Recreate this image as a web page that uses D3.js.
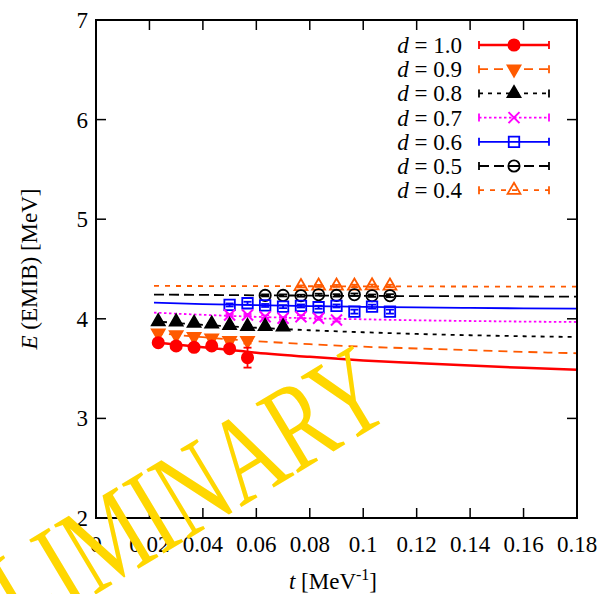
<!DOCTYPE html>
<html lang="en">
<head>
  <meta charset="UTF-8" />
  <title>E(EMIB) vs t</title>
  <script src="https://d3js.org/d3.v7.min.js"></script>
  <style>
    body { margin: 0; background: #fff; }
    text { font-family: "Liberation Serif", "DejaVu Serif", serif; }
  </style>
</head>
<body>
  <div id="chart"></div>
  <script>
    // legend labels (d values)
    var dLabels = ["1.0", "0.9", "0.8", "0.7", "0.6", "0.5", "0.4"];
    var xTicks = [0, 0.02, 0.04, 0.06, 0.08, 0.1, 0.12, 0.14, 0.16, 0.18];
    var yTicks = [2, 3, 4, 5, 6, 7];

    // data points, t in MeV^-1
    var t10 = [0.0233, 0.03, 0.0367, 0.0433, 0.05, 0.0567];
    var e10 = [3.760, 3.727, 3.714, 3.727, 3.700, 3.610];
    var err10 = [0.012, 0.012, 0.015, 0.02, 0.022, 0.1];

    var t09 = [0.0233, 0.03, 0.0367, 0.0433, 0.05, 0.0567];
    var e09 = [3.856, 3.839, 3.822, 3.806, 3.782, 3.782];
    var err09 = [0.01, 0.01, 0.015, 0.02, 0.02, 0.03];

    var t08 = [0.0233, 0.03, 0.0367, 0.0433, 0.05, 0.0567, 0.0633, 0.07];
    var e08 = [3.972, 3.970, 3.956, 3.949, 3.935, 3.925, 3.925, 3.920];
    var err08 = [0.008, 0.008, 0.01, 0.01, 0.01, 0.012, 0.012, 0.015];

    var t07 = [0.05, 0.0567, 0.0633, 0.07, 0.0767, 0.0833, 0.09];
    var e07 = [4.038, 4.038, 4.021, 4.005, 4.021, 4.005, 3.988];
    var err07 = [0.01, 0.01, 0.012, 0.012, 0.015, 0.015, 0.015];

    var t06 = [0.05, 0.0567, 0.0633, 0.07, 0.0767, 0.0833, 0.09, 0.0967, 0.1033, 0.11];
    var e06 = [4.139, 4.156, 4.134, 4.122, 4.129, 4.116, 4.129, 4.072, 4.122, 4.072];
    var err06 = [0.015, 0.015, 0.015, 0.015, 0.015, 0.015, 0.015, 0.02, 0.02, 0.02];

    var t05 = [0.0633, 0.07, 0.0767, 0.0833, 0.09, 0.0967, 0.1033, 0.11];
    var e05 = [4.235, 4.235, 4.232, 4.242, 4.235, 4.242, 4.232, 4.232];
    var err05 = [0.01, 0.01, 0.01, 0.01, 0.012, 0.012, 0.012, 0.015];

    var t04 = [0.0767, 0.0833, 0.09, 0.0967, 0.1033, 0.11];
    var e04 = [4.325, 4.330, 4.330, 4.330, 4.332, 4.330];
    var err04 = [0.01, 0.01, 0.01, 0.012, 0.012, 0.012];

    // fit curves, read at these t
    var fitT = [0.0217, 0.04, 0.06, 0.08, 0.1, 0.12, 0.14, 0.16, 0.18];
    var fit10 = [3.765, 3.715, 3.660, 3.618, 3.582, 3.555, 3.530, 3.508, 3.488];
    var fit09 = [3.860, 3.815, 3.775, 3.745, 3.720, 3.702, 3.685, 3.668, 3.654];
    var fit08 = [3.975, 3.940, 3.910, 3.885, 3.865, 3.848, 3.835, 3.825, 3.817];
    var fit07 = [4.062, 4.040, 4.020, 4.005, 3.995, 3.985, 3.978, 3.972, 3.968];
    var fit06 = [4.162, 4.148, 4.137, 4.128, 4.120, 4.114, 4.109, 4.105, 4.102];
    var fit05 = [4.243, 4.240, 4.236, 4.233, 4.230, 4.228, 4.226, 4.224, 4.222];
    var fit04 = [4.330, 4.329, 4.328, 4.327, 4.326, 4.325, 4.324, 4.323, 4.323];

    var W = 605, H = 594;
    var mLeft = 96, mRight = 577, mTop = 20, mBottom = 518;
    var orange = "#ff5a00";

    var styles = [
      { t: t10, e: e10, err: err10, fit: fit10, color: "#ff0000", dash: null, lw: 2.5, sym: "circle", filled: true },
      { t: t09, e: e09, err: err09, fit: fit09, color: orange, dash: "9,6", lw: 1.8, sym: "down", filled: true },
      { t: t08, e: e08, err: err08, fit: fit08, color: "#000000", dash: "4,5", lw: 1.8, sym: "up", filled: true },
      { t: t07, e: e07, err: err07, fit: fit07, color: "#ff00ff", dash: "2.5,2.5", lw: 1.8, sym: "x", filled: false },
      { t: t06, e: e06, err: err06, fit: fit06, color: "#0000ff", dash: null, lw: 1.8, sym: "square", filled: false },
      { t: t05, e: e05, err: err05, fit: fit05, color: "#000000", dash: "10,5", lw: 1.8, sym: "circle", filled: false },
      { t: t04, e: e04, err: err04, fit: fit04, color: orange, dash: "5,6", lw: 1.8, sym: "up", filled: false }
    ];

    var svg = d3.select("#chart").append("svg")
      .attr("width", W)
      .attr("height", H);

    var x = d3.scaleLinear().domain([0, 0.18]).range([mLeft, mRight]);
    var y = d3.scaleLinear().domain([2, 7]).range([mBottom, mTop]);

    var plot = svg.append("g");

    // fit lines
    var line = d3.line()
      .x(function(d) { return x(d[0]); })
      .y(function(d) { return y(d[1]); })
      .curve(d3.curveMonotoneX);

    styles.forEach(function(s) {
      plot.append("path")
        .datum(fitT.map(function(t, i) { return [t, s.fit[i]]; }))
        .attr("d", line)
        .attr("fill", "none")
        .attr("stroke", s.color)
        .attr("stroke-width", s.lw)
        .attr("stroke-dasharray", s.dash);
    });

    function symbolPath(sym) {
      if (sym == "circle") return d3.symbol().type(d3.symbolCircle).size(100)();
      if (sym == "square") return d3.symbol().type(d3.symbolSquare).size(110)();
      if (sym == "up" || sym == "down") return d3.symbol().type(d3.symbolTriangle).size(72)();
      // x cross
      var r = 5.5;
      return "M" + (-r) + "," + (-r) + "L" + r + "," + r + "M" + (-r) + "," + r + "L" + r + "," + (-r);
    }

    function drawMarker(g, s, px, py) {
      g.append("path")
        .attr("d", symbolPath(s.sym))
        .attr("transform", "translate(" + px + "," + py + ")" + (s.sym == "down" ? " rotate(180)" : ""))
        .attr("stroke", s.color)
        .attr("stroke-width", s.sym == "x" ? 2 : 1.8)
        .attr("fill", s.filled ? s.color : "none");
    }

    // points with error bars
    styles.slice().reverse().forEach(function(s) {
      var g = plot.append("g");
      s.t.forEach(function(t, i) {
        var px = x(t), py = y(s.e[i]);
        var y1 = y(s.e[i] + s.err[i]), y2 = y(s.e[i] - s.err[i]);
        g.append("line")
          .attr("x1", px).attr("x2", px).attr("y1", y1).attr("y2", y2)
          .attr("stroke", s.color).attr("stroke-width", 1.8);
        [y1, y2].forEach(function(yy) {
          g.append("line")
            .attr("x1", px - 4).attr("x2", px + 4).attr("y1", yy).attr("y2", yy)
            .attr("stroke", s.color).attr("stroke-width", 1.8);
        });
        drawMarker(g, s, px, py);
      });
    });

    // axes with inward ticks on all sides
    var tickLen = 10;
    var axes = svg.append("g");
    axes.append("rect")
      .attr("x", mLeft).attr("y", mTop)
      .attr("width", mRight - mLeft).attr("height", mBottom - mTop)
      .attr("fill", "none").attr("stroke", "#000").attr("stroke-width", 2);

    xTicks.forEach(function(t) {
      axes.append("line").attr("x1", x(t)).attr("x2", x(t))
        .attr("y1", mBottom).attr("y2", mBottom - tickLen)
        .attr("stroke", "#000").attr("stroke-width", 1.5);
      axes.append("line").attr("x1", x(t)).attr("x2", x(t))
        .attr("y1", mTop).attr("y2", mTop + tickLen)
        .attr("stroke", "#000").attr("stroke-width", 1.5);
      axes.append("text")
        .attr("x", x(t)).attr("y", 552)
        .attr("text-anchor", "middle")
        .style("font-size", "23px")
        .text(t);
    });

    yTicks.forEach(function(v) {
      axes.append("line").attr("x1", mLeft).attr("x2", mLeft + tickLen)
        .attr("y1", y(v)).attr("y2", y(v))
        .attr("stroke", "#000").attr("stroke-width", 1.5);
      axes.append("line").attr("x1", mRight).attr("x2", mRight - tickLen)
        .attr("y1", y(v)).attr("y2", y(v))
        .attr("stroke", "#000").attr("stroke-width", 1.5);
      axes.append("text")
        .attr("x", 88).attr("y", y(v) + 8)
        .attr("text-anchor", "end")
        .style("font-size", "23px")
        .text(v);
    });

    // axis titles
    var xl = svg.append("text")
      .attr("x", 333).attr("y", 589)
      .attr("text-anchor", "middle")
      .style("font-size", "23px");
    xl.append("tspan").style("font-style", "italic").text("t");
    xl.append("tspan").text(" [MeV");
    xl.append("tspan").attr("dy", -9).style("font-size", "16px").text("-1");
    xl.append("tspan").attr("dy", 9).text("]");

    var yl = svg.append("text")
      .attr("transform", "translate(37," + ((mTop + mBottom) / 2) + ") rotate(-90)")
      .attr("text-anchor", "middle")
      .style("font-size", "23px");
    yl.append("tspan").style("font-style", "italic").text("E");
    yl.append("tspan").text(" (EMIB) [MeV]");

    // legend
    var legend = svg.append("g");
    styles.forEach(function(s, i) {
      var cy = 45 + i * 24.2;
      var lt = legend.append("text")
        .attr("x", 462).attr("y", cy + 8)
        .attr("text-anchor", "end")
        .style("font-size", "23px");
      lt.append("tspan").style("font-style", "italic").text("d");
      lt.append("tspan").text(" = " + dLabels[i]);

      legend.append("line")
        .attr("x1", 479).attr("x2", 549).attr("y1", cy).attr("y2", cy)
        .attr("stroke", s.color).attr("stroke-width", s.lw)
        .attr("stroke-dasharray", s.dash);
      [479, 549].forEach(function(xx) {
        legend.append("line")
          .attr("x1", xx).attr("x2", xx).attr("y1", cy - 4).attr("y2", cy + 4)
          .attr("stroke", s.color).attr("stroke-width", 1.8);
      });
      drawMarker(legend, s, 514, cy);
    });

    // watermark (tall, narrow letters)
    svg.append("text")
      .attr("transform", "translate(396,414) rotate(-31)")
      .attr("text-anchor", "end")
      .attr("textLength", 598)
      .attr("lengthAdjust", "spacingAndGlyphs")
      .attr("fill", "#ffd700")
      .style("font-size", "124px")
      .text("PRELIMINARY");
  </script>
</body>
</html>
